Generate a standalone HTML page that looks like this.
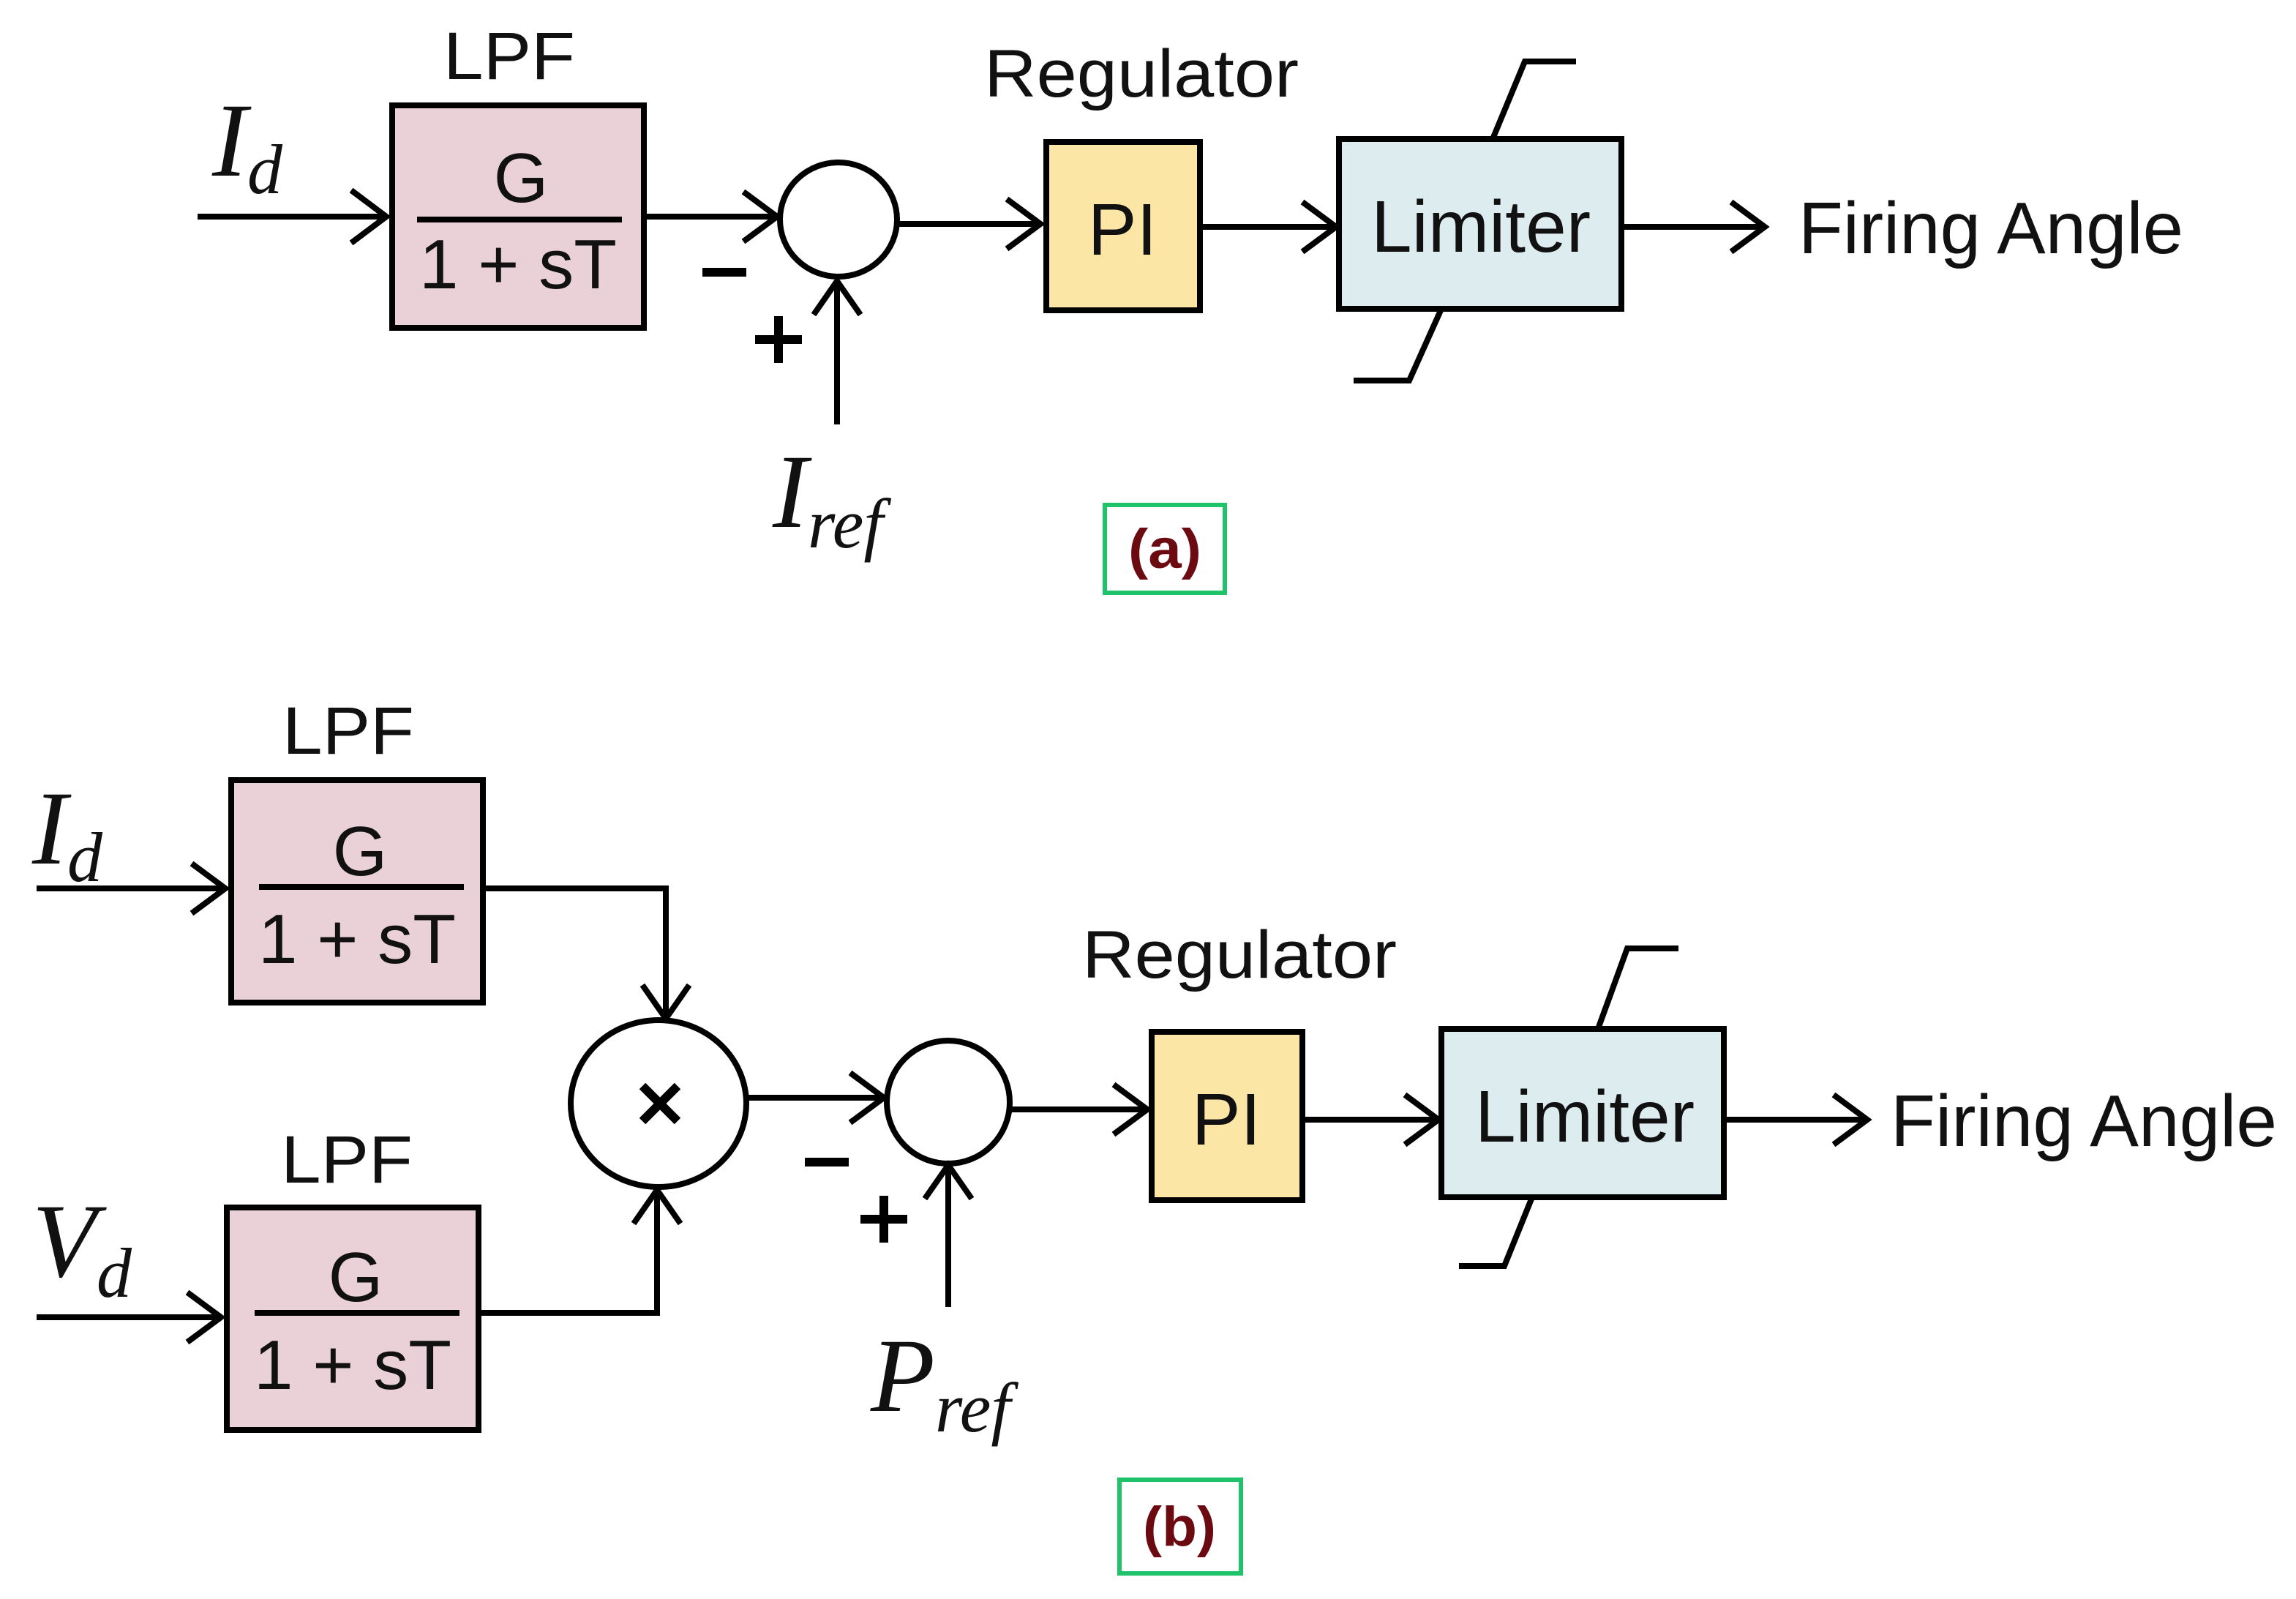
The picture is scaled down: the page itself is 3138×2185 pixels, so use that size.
<!DOCTYPE html>
<html><head><meta charset="utf-8"><style>
html,body{margin:0;padding:0;background:#fff;}
svg{display:block;}
.s{font-family:"Liberation Sans",Arial,sans-serif;fill:#111;}
.m{font-family:"Liberation Serif","Times New Roman",serif;font-style:italic;fill:#111;}
</style></head><body>
<svg width="3138" height="2185" viewBox="0 0 1569 1092.5" xmlns="http://www.w3.org/2000/svg">
<g stroke="#000" stroke-width="4" fill="none" stroke-linecap="butt" stroke-linejoin="miter">
<!-- Panel a -->
<line x1="135" y1="148" x2="264" y2="148"/><polyline points="240,130 264,148 240,166"/>
<rect x="268" y="72" width="172" height="152" fill="#EAD1D8"/>
<line x1="285" y1="150" x2="425" y2="150"/>
<line x1="440" y1="148" x2="531" y2="148"/><polyline points="508,131 531,148 508,165"/>
<ellipse cx="573" cy="150" rx="40" ry="39" fill="#fff"/>
<line x1="572" y1="290" x2="572" y2="192"/><polyline points="556,215 572,192 588,215"/>
<line x1="613" y1="153" x2="711" y2="153"/><polyline points="688,136 711,153 688,170"/>
<rect x="715" y="97" width="105" height="115" fill="#FCE6A6"/>
<line x1="820" y1="155" x2="913" y2="155"/><polyline points="890,138 913,155 890,172"/>
<rect x="915" y="95" width="193" height="116" fill="#DCECEF"/>
<polyline points="1020,95 1042,42 1077,42"/>
<polyline points="985,211 963,260 925,260"/>
<line x1="1108" y1="155" x2="1206" y2="155"/><polyline points="1183,138 1206,155 1183,172"/>
<!-- Panel b -->
<line x1="25" y1="607" x2="154" y2="607"/><polyline points="131,590 154,607 131,624"/>
<rect x="158" y="533" width="172" height="152" fill="#EAD1D8"/>
<line x1="177" y1="606" x2="317" y2="606"/>
<polyline points="330,607 455,607 455,696"/><polyline points="439,673 455,696 471,673"/>
<line x1="25" y1="900" x2="151" y2="900"/><polyline points="128,883 151,900 128,917"/>
<rect x="155" y="825" width="172" height="152" fill="#EAD1D8"/>
<line x1="174" y1="897" x2="314" y2="897"/>
<polyline points="327,897 449,897 449,813"/><polyline points="433,836 449,813 465,836"/>
<ellipse cx="450" cy="754" rx="60" ry="57" fill="#fff"/>
<line x1="510" y1="750" x2="604" y2="750"/><polyline points="581,733 604,750 581,767"/>
<ellipse cx="648" cy="753" rx="42" ry="42" fill="#fff"/>
<line x1="648" y1="893" x2="648" y2="796"/><polyline points="632,819 648,796 664,819"/>
<line x1="690" y1="758" x2="784" y2="758"/><polyline points="761,741 784,758 761,775"/>
<rect x="787" y="705" width="103" height="115" fill="#FCE6A6"/>
<line x1="890" y1="765" x2="983" y2="765"/><polyline points="960,748 983,765 960,782"/>
<rect x="985" y="703" width="193" height="115" fill="#DCECEF"/>
<polyline points="1092,703 1112,648 1147,648"/>
<polyline points="1047,818 1028,865 997,865"/>
<line x1="1178" y1="765" x2="1276" y2="765"/><polyline points="1253,748 1276,765 1253,782"/>
<!-- minus/plus/times -->
<line x1="480" y1="186" x2="510" y2="186" stroke-width="6"/>
<line x1="516" y1="232" x2="548" y2="232" stroke-width="6"/><line x1="532" y1="216" x2="532" y2="248" stroke-width="6"/>
<line x1="550" y1="794" x2="580" y2="794" stroke-width="6"/>
<line x1="588" y1="833" x2="620" y2="833" stroke-width="6"/><line x1="604" y1="817" x2="604" y2="849" stroke-width="6"/>
<line x1="439" y1="742" x2="463" y2="766" stroke-width="6"/><line x1="463" y1="742" x2="439" y2="766" stroke-width="6"/>
</g>
<rect x="755" y="345" width="82" height="60" fill="none" stroke="#1fc46a" stroke-width="3"/>
<rect x="765" y="1011" width="83" height="64" fill="none" stroke="#1fc46a" stroke-width="3"/>
<g class="s" text-anchor="middle">
<text x="348" y="54" font-size="46" textLength="90" lengthAdjust="spacingAndGlyphs">LPF</text>
<text x="356" y="138" font-size="48">G</text>
<text x="354" y="197" font-size="48" textLength="135" lengthAdjust="spacingAndGlyphs">1 + sT</text>
<text x="780" y="66" font-size="46" textLength="215" lengthAdjust="spacingAndGlyphs">Regulator</text>
<text x="767" y="174" font-size="50">PI</text>
<text x="1012" y="172" font-size="50" textLength="150" lengthAdjust="spacingAndGlyphs">Limiter</text>
<text x="238" y="515" font-size="46" textLength="90" lengthAdjust="spacingAndGlyphs">LPF</text>
<text x="246" y="598" font-size="48">G</text>
<text x="244" y="658" font-size="48" textLength="135" lengthAdjust="spacingAndGlyphs">1 + sT</text>
<text x="237" y="808" font-size="46" textLength="90" lengthAdjust="spacingAndGlyphs">LPF</text>
<text x="243" y="889" font-size="48">G</text>
<text x="241" y="949" font-size="48" textLength="135" lengthAdjust="spacingAndGlyphs">1 + sT</text>
<text x="847" y="668" font-size="46" textLength="215" lengthAdjust="spacingAndGlyphs">Regulator</text>
<text x="838" y="782" font-size="50">PI</text>
<text x="1083" y="780" font-size="50" textLength="150" lengthAdjust="spacingAndGlyphs">Limiter</text>
</g>
<g class="s">
<text x="1229" y="173" font-size="50" textLength="263" lengthAdjust="spacingAndGlyphs">Firing Angle</text>
<text x="1292" y="783" font-size="50" textLength="264" lengthAdjust="spacingAndGlyphs">Firing Angle</text>
</g>
<g font-family="'Liberation Sans',Arial,sans-serif" font-weight="bold" fill="#6b0a10" text-anchor="middle">
<text x="796" y="388" font-size="38" textLength="50" lengthAdjust="spacingAndGlyphs">(a)</text>
<text x="806" y="1056" font-size="38" textLength="50" lengthAdjust="spacingAndGlyphs">(b)</text>
</g>
<g class="m">
<text x="145" y="120" font-size="72">I<tspan font-size="48" dy="12">d</tspan></text>
<text x="528" y="360" font-size="72">I<tspan font-size="48" dy="14">ref</tspan></text>
<text x="22" y="590" font-size="72">I<tspan font-size="48" dy="12">d</tspan></text>
<text x="22" y="872" font-size="72">V<tspan font-size="48" dy="14">d</tspan></text>
<text x="595" y="964" font-size="72">P<tspan font-size="48" dy="14">ref</tspan></text>
</g>
</svg>
</body></html>
